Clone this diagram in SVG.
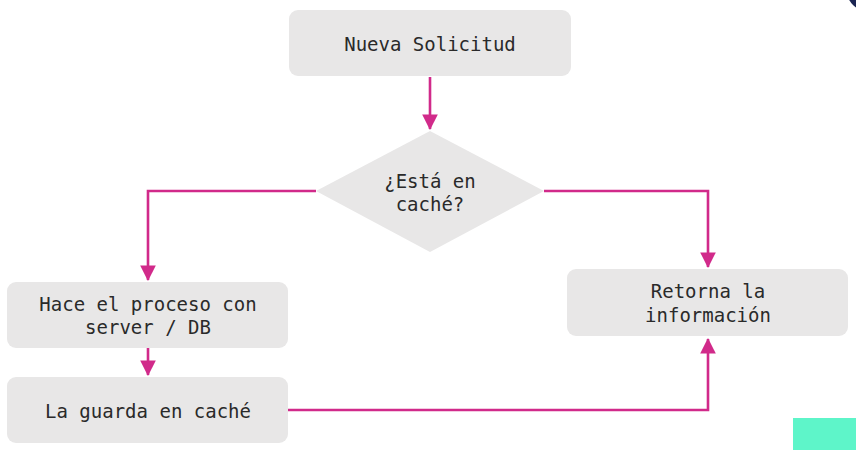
<svg xmlns="http://www.w3.org/2000/svg" width="856" height="450" viewBox="0 0 856 450">
<defs>
<marker id="ah" markerWidth="6" markerHeight="6" refX="5.6" refY="3" orient="auto" markerUnits="strokeWidth">
<path d="M0,0 L6,3 L0,6 z" fill="#d12a8a"/>
</marker>
<style>
.box{fill:#e8e7e7;}
.t{font-family:"DejaVu Sans Mono","Liberation Mono",monospace;font-size:19px;fill:#2a2a2a;text-anchor:middle;}
.c{fill:none;stroke:#d12a8a;stroke-width:2.6;marker-end:url(#ah);}
</style>
</defs>
<rect width="856" height="450" fill="#ffffff"/>
<circle cx="870" cy="-12" r="24" fill="#1b2552"/>
<rect x="793" y="418" width="63" height="32" fill="#5ef5c9"/>
<g id="connectors">
<path class="c" d="M430,77 V129"/>
<path class="c" d="M316,191 H148 V280"/>
<path class="c" d="M544,191 H708 V267"/>
<path class="c" d="M148,348 V375"/>
<path class="c" d="M288,410 H708 V339"/>
</g>
<g id="n1">
<rect class="box" x="289" y="10" width="282" height="66" rx="9"/>
<text class="t" x="430" y="51">Nueva Solicitud</text>
</g>
<g id="n2">
<polygon class="box" points="430,131 544,191 430,252 316,191"/>
<text class="t" x="430" y="188">¿Está en</text>
<text class="t" x="430" y="211">caché?</text>
</g>
<g id="n3">
<rect class="box" x="7" y="282" width="281" height="66" rx="9"/>
<text class="t" x="148" y="311">Hace el proceso con</text>
<text class="t" x="148" y="334">server / DB</text>
</g>
<g id="n4">
<rect class="box" x="7" y="377" width="281" height="66" rx="9"/>
<text class="t" x="148" y="418">La guarda en caché</text>
</g>
<g id="n5">
<rect class="box" x="567" y="269" width="281" height="67" rx="9"/>
<text class="t" x="708" y="298">Retorna la</text>
<text class="t" x="708" y="322">información</text>
</g>
</svg>
